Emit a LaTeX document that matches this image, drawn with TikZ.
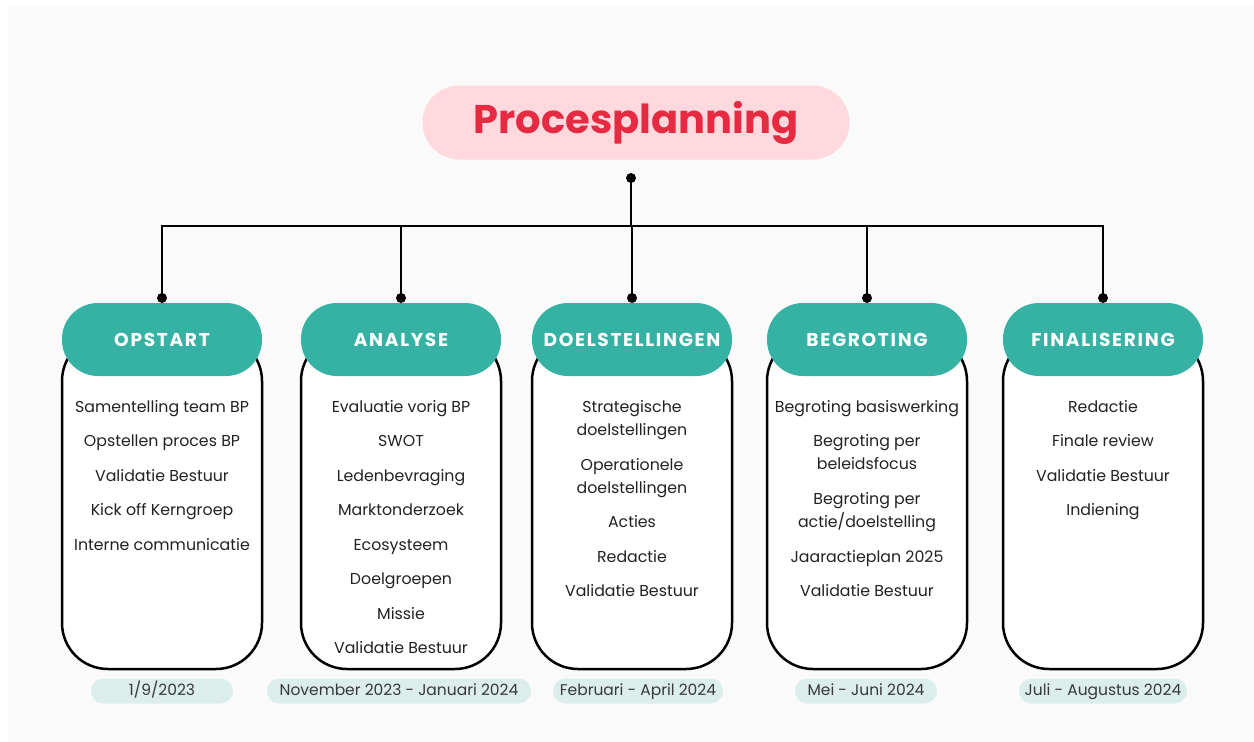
\documentclass[tikz,border=0pt]{standalone}
\usepackage{fontspec}
\setmainfont{Poppins}
\newfontfamily\headfont[LetterSpace=9]{Poppins}
\newfontfamily\titlefont{Poppins}
\definecolor{bggrey}{HTML}{FAFAFA}
\definecolor{teal}{HTML}{35B2A3}
\definecolor{datefill}{HTML}{DCEEEC}
\definecolor{titlefill}{HTML}{FFD9DE}
\definecolor{titlered}{HTML}{E62A42}
\definecolor{txt}{HTML}{222222}
\tikzset{
  conn/.style={line width=2.6pt, black},
  dotc/.style={fill=black, draw=none},
  header/.style={rounded corners=36pt, fill=teal, minimum width=200pt, minimum height=73pt, inner sep=0pt,
     text=white, font=\headfont\bfseries\fontsize{18.6}{21}\selectfont},
  itembox/.style={rounded corners=46pt, fill=white, draw=black, line width=2.5pt},
  item/.style={text=txt, font=\fontsize{15.8}{23}\selectfont, inner sep=0pt, anchor=base},
  datepill/.style={rounded corners=12.5pt, fill=datefill, minimum height=25pt, inner sep=0pt,
     text height=11pt, text depth=3pt,
     text=txt!90, font=\fontsize{15.5}{18}\selectfont},
}
\newcommand{\itm}[3]{\node[item] (#1) at (#2) {#3};}
\begin{document}
\begin{tikzpicture}[x=1pt,y=-1pt]
\useasboundingbox (0,0) rectangle (1254,742);
\fill[white] (0,0) rectangle (1254,742);
\fill[bggrey] (8,7) rectangle (1254,742);

% title
\node[rounded corners=37pt, fill=titlefill, minimum width=427pt, minimum height=74pt, inner sep=0pt,
  text=titlered, font=\titlefont\bfseries\fontsize{40}{48}\selectfont] (title) at (636,122.5) {Procesplanning};

% item boxes (behind headers)
\foreach \x in {162,401,632,867,1103}{
  \draw[itembox] (\x-100,335) rectangle (\x+100,669);
}

% headers
\node[header] (h1) at (162,339.5) {OPSTART};
\node[header] (h2) at (401,339.5) {ANALYSE};
\node[header] (h3) at (632,339.5) {DOELSTELLINGEN};
\node[header] (h4) at (867,339.5) {BEGROTING};
\node[header] (h5) at (1103,339.5) {FINALISERING};

% connectors
\coordinate (top) at (631,178);
\coordinate (bus) at (631,226);
\coordinate (d1) at (162,298);
\coordinate (d2) at (401,298);
\coordinate (d3) at (632,298);
\coordinate (d4) at (867,298);
\coordinate (d5) at (1103,298);
\draw[conn] (top) -- (bus);
\draw[conn] (d1) -- (d1 |- bus) -- (d5 |- bus) -- (d5);
\foreach \d in {d2,d3,d4}{ \draw[conn] (\d |- bus) -- (\d); }
\foreach \d in {top,d1,d2,d3,d4,d5}{ \fill[dotc] (\d) circle (5pt); }

% column 1 (baselines)
\itm{c1a}{162,412.5}{Samentelling team BP}
\itm{c1b}{162,446.5}{Opstellen proces BP}
\itm{c1c}{162,481.5}{Validatie Bestuur}
\itm{c1d}{162,515.5}{Kick off Kerngroep}
\itm{c1e}{162,550.5}{Interne communicatie}

% column 2
\itm{c2a}{401,412.5}{Evaluatie vorig BP}
\itm{c2b}{401,446.5}{SWOT}
\itm{c2c}{401,481.5}{Ledenbevraging}
\itm{c2d}{401,515.5}{Marktonderzoek}
\itm{c2e}{401,550.5}{Ecosysteem}
\itm{c2f}{401,584.5}{Doelgroepen}
\itm{c2g}{401,619.5}{Missie}
\itm{c2h}{401,653.5}{Validatie Bestuur}

% column 3
\itm{c3a}{632,412.5}{Strategische}
\itm{c3a2}{632,435.5}{doelstellingen}
\itm{c3b}{632,470.5}{Operationele}
\itm{c3b2}{632,493.5}{doelstellingen}
\itm{c3c}{632,527.5}{Acties}
\itm{c3d}{632,562.5}{Redactie}
\itm{c3e}{632,596.5}{Validatie Bestuur}

% column 4
\itm{c4a}{867,412.5}{Begroting basiswerking}
\itm{c4b}{867,446.5}{Begroting per}
\itm{c4b2}{867,469.5}{beleidsfocus}
\itm{c4c}{867,504.5}{Begroting per}
\itm{c4c2}{867,527.5}{actie/doelstelling}
\itm{c4d}{867,562.5}{Jaaractieplan 2025}
\itm{c4e}{867,596.5}{Validatie Bestuur}

% column 5
\itm{c5a}{1103,412.5}{Redactie}
\itm{c5b}{1103,446.5}{Finale review}
\itm{c5c}{1103,481.5}{Validatie Bestuur}
\itm{c5d}{1103,515.5}{Indiening}

% dates
\node[datepill, minimum width=142pt] (t1) at (162,691) {1/9/2023};
\node[datepill, minimum width=264pt] (t2) at (399,691) {November 2023 - Januari 2024};
\node[datepill, minimum width=170pt] (t3) at (638,691) {Februari - April 2024};
\node[datepill, minimum width=142pt] (t4) at (866,691) {Mei - Juni 2024};
\node[datepill, minimum width=168pt] (t5) at (1103,691) {Juli - Augustus 2024};
\end{tikzpicture}
\end{document}
